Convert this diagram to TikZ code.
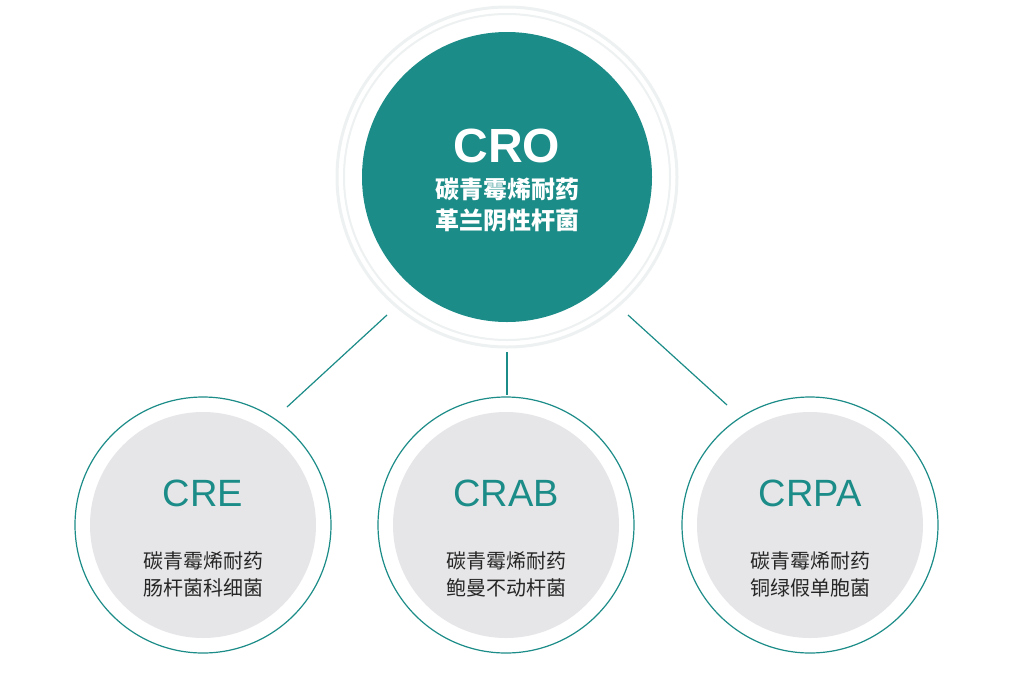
\documentclass[tikz,border=0pt]{standalone}
\usepackage{fontspec}
\setmainfont{Noto Sans CJK SC}
\newfontfamily\latinf{Liberation Sans}
\definecolor{teal1}{HTML}{1C8C88}
\definecolor{ring}{HTML}{EEF1F1}
\definecolor{greyfill}{HTML}{E6E6E8}
\tikzset{
  conn/.style={draw=teal1, line width=1.2pt},
  outer/.style={circle, draw=teal1, line width=1.2pt, fill=white, minimum size=256pt, inner sep=0pt},
  inner/.style={circle, fill=greyfill, minimum size=226pt, inner sep=0pt},
  abbr/.style={text=teal1, font=\latinf\fontsize{38}{40}\selectfont},
  desc/.style={text=black!85, font=\fontsize{20}{27}\selectfont, align=center}
}
\begin{document}
\begin{tikzpicture}[x=1pt,y=-1pt]
\useasboundingbox (0,0) rectangle (1028,681);
\fill[white] (0,0) rectangle (1028,681);
% top
\node[circle, draw=ring, line width=3pt, minimum size=340pt] (ringa) at (507,177) {};
\node[circle, draw=ring, line width=2pt, minimum size=326pt] (ringb) at (507,177) {};
\node[circle, fill=teal1, minimum size=290pt, inner sep=0pt] (top) at (507,177) {};
\node[text=white, font=\latinf\bfseries\fontsize{48}{50}\selectfont] (cro) at (507,146) {CRO};
\node[text=white, font=\bfseries\fontsize{24}{31}\selectfont, align=center] (crot) at (507,205) {碳青霉烯耐药\\革兰阴性杆菌};
% bottom
\foreach \n/\x/\a/\b/\c in {cre/203/CRE/碳青霉烯耐药/肠杆菌科细菌, crab/506/CRAB/碳青霉烯耐药/鲍曼不动杆菌, crpa/810/CRPA/碳青霉烯耐药/铜绿假单胞菌}{
  \node[outer] (\n) at (\x,525) {};
  \node[inner] (\n i) at (\x,525) {};
  \node[abbr] (\n a) at (\x,493) {\a};
  \node[desc] (\n d) at (\x,574) {\b\\\c};
}
\coordinate (l1a) at (387,315); \coordinate (l1b) at (287,407);
\coordinate (l2a) at (507,352); \coordinate (l2b) at (507,395);
\coordinate (l3a) at (628,315); \coordinate (l3b) at (727,405);
\draw[conn] (l1a) -- (l1b);
\draw[conn] (l2a) -- (l2b);
\draw[conn] (l3a) -- (l3b);
\end{tikzpicture}
\end{document}
